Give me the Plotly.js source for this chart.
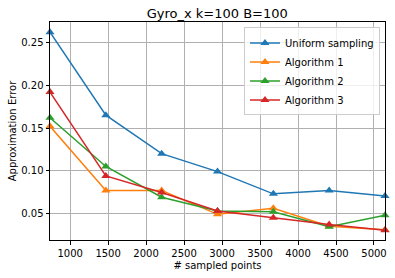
<!DOCTYPE html>
<html><head><meta charset="utf-8">
<script src="https://cdn.plot.ly/plotly-3.0.1.min.js"></script>
<style>body{margin:0;padding:0;background:#fff}#c{width:395px;height:278px}</style>
</head><body><div id="c"></div>
<script>
const xs = [735, 1470, 2205, 2940, 3675, 4410, 5145];
const uniform = [0.262, 0.165, 0.120, 0.099, 0.073, 0.077, 0.0705];
const alg1 = [0.152, 0.077, 0.077, 0.049, 0.056, 0.035, 0.031];
const alg2 = [0.162, 0.105, 0.069, 0.053, 0.052, 0.0345, 0.048];
const alg3 = [0.192, 0.094, 0.0745, 0.053, 0.045, 0.037, 0.0305];
const names = ["Uniform sampling", "Algorithm 1", "Algorithm 2", "Algorithm 3"];
const colors = ["#1f77b4", "#ff7f0e", "#2ca02c", "#d62728"];
const series = [uniform, alg1, alg2, alg3];
const xticks = [1000, 1500, 2000, 2500, 3000, 3500, 4000, 4500, 5000];
const yticks = [0.05, 0.10, 0.15, 0.20, 0.25];
const yticklabels = ["0.05", "0.10", "0.15", "0.20", "0.25"];

const data = series.map((s, i) => ({
  x: xs, y: s, name: names[i], type: 'scatter', mode: 'lines+markers',
  line: {color: colors[i], width: 1.5},
  marker: {symbol: 'triangle-up', size: 8, color: colors[i]},
  cliponaxis: false
}));
const layout = {
  width: 395, height: 278,
  margin: {l: 50, r: 10, t: 22, b: 38},
  paper_bgcolor: '#fff', plot_bgcolor: '#fff',
  font: {family: 'DejaVu Sans', size: 10, color: '#000'},
  title: {text: 'Gyro_x k=100 B=100', font: {size: 13}, x: 0.55, xanchor: 'center', y: 0.952, yanchor: 'middle'},
  xaxis: {range: [735, 5145], tickvals: xticks, ticktext: xticks.map(String),
    showgrid: true, gridcolor: '#b0b0b0', gridwidth: 1, zeroline: false,
    showline: true, linecolor: '#000', linewidth: 1, mirror: true,
    ticks: 'outside', ticklen: 3.5, tickcolor: '#000',
    title: {text: '# sampled points', font: {size: 10}, standoff: 4}},
  yaxis: {range: [0.019, 0.274], tickvals: yticks, ticktext: yticklabels,
    showgrid: true, gridcolor: '#b0b0b0', gridwidth: 1, zeroline: false,
    showline: true, linecolor: '#000', linewidth: 1, mirror: true,
    ticks: 'outside', ticklen: 3.5, tickcolor: '#000',
    title: {text: 'Approximation Error', font: {size: 10}, standoff: 2}},
  legend: {x: 0.985, xanchor: 'right', y: 0.975, yanchor: 'top',
    bgcolor: 'rgba(255,255,255,0.8)', bordercolor: '#cccccc', borderwidth: 1,
    font: {size: 10}, tracegroupgap: 0, itemwidth: 30}
};
Plotly.newPlot('c', data, layout, {displayModeBar: false, staticPlot: true});
</script></body></html>
